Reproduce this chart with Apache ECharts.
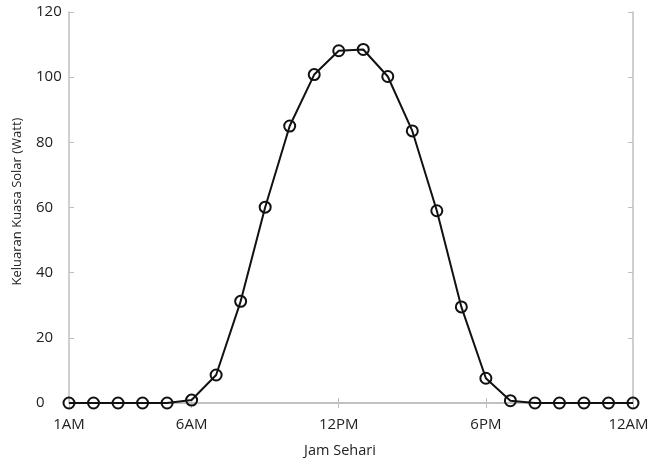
<!DOCTYPE html>
<html>
<head>
<meta charset="utf-8">
<script src="https://cdn.jsdelivr.net/npm/echarts@6/dist/echarts.min.js"></script>
<style>
html,body{margin:0;padding:0;background:#fff;}
#chart{width:650px;height:464px;}
</style>
</head>
<body>
<div id="chart"></div>
<script>
// jam dalam sehari
let hours = ['1AM','2AM','3AM','4AM','5AM','6AM','7AM','8AM','9AM','10AM','11AM','12PM',
    '1PM','2PM','3PM','4PM','5PM','6PM','7PM','8PM','9PM','10PM','11PM','12AM'];
// keluaran kuasa solar (Watt)
let power = [0,0,0,0,0,0.9,8.6,31.2,60.1,85,100.8,108.1,
    108.5,100.2,83.5,59,29.5,7.6,0.7,0,0,0,0,0];
let labelIdx = [0,5,11,17,23];

let axisGray = '#bfbfbf';
let fontName = '"Open Sans", "Liberation Sans", sans-serif';
let showIdx = (i) => labelIdx.indexOf(i) >= 0;

let myChart = echarts.init(document.getElementById('chart'));
let option = {
    animation: false,
    grid: {
        left: 69,
        right: 17,
        top: 12,
        bottom: 61,
        outerBoundsMode: 'none'
    },
    xAxis: [{
        type: 'category',
        data: hours,
        boundaryGap: false,
        name: 'Jam Sehari',
        nameLocation: 'middle',
        nameGap: 40,
        nameTextStyle: { color: '#222', fontSize: 14.5, fontFamily: fontName, padding: [0, 22, 0, 0] },
        axisLine: { lineStyle: { color: axisGray, width: 1.5 } },
        axisTick: {
            inside: true,
            length: 5,
            interval: showIdx,
            lineStyle: { color: axisGray }
        },
        axisLabel: {
            interval: showIdx,
            color: '#222',
            fontSize: 15,
            margin: 14,
            fontFamily: fontName,
            formatter: function (val, idx) {
                if (idx === hours.length - 1) {
                    return '{last|' + val + '}';
                }
                return val;
            },
            rich: {
                last: { color: '#222', fontSize: 15, fontFamily: fontName, padding: [0, 9, 0, 0] }
            }
        },
        splitLine: { show: false }
    }, {
        type: 'category',
        data: hours,
        boundaryGap: false,
        position: 'top',
        axisLine: { lineStyle: { color: axisGray, width: 1.5 } },
        axisTick: {
            inside: true,
            length: 5,
            interval: showIdx,
            lineStyle: { color: axisGray }
        },
        axisLabel: { show: false },
        splitLine: { show: false }
    }],
    yAxis: [{
        type: 'value',
        min: 0,
        max: 120,
        interval: 20,
        name: 'Keluaran Kuasa Solar (Watt)',
        nameLocation: 'middle',
        nameGap: 45,
        nameTextStyle: { color: '#222', fontSize: 13, fontFamily: fontName, padding: [0, 0, 0, 12] },
        axisLine: { show: true, lineStyle: { color: axisGray, width: 1.5 } },
        axisTick: { show: true, inside: true, length: 5, lineStyle: { color: axisGray } },
        axisLabel: { color: '#222', fontSize: 15, margin: 33, align: 'left', fontFamily: fontName },
        splitLine: { show: false }
    }, {
        type: 'value',
        min: 0,
        max: 120,
        interval: 20,
        position: 'right',
        axisLine: { show: true, lineStyle: { color: axisGray, width: 1.5 } },
        axisTick: { show: true, inside: true, length: 5, lineStyle: { color: axisGray } },
        axisLabel: { show: false },
        splitLine: { show: false }
    }],
    series: [{
        type: 'line',
        data: power,
        xAxisIndex: 0,
        yAxisIndex: 0,
        symbol: 'circle',
        symbolSize: 11,
        showAllSymbol: true,
        lineStyle: { color: '#111', width: 2 },
        itemStyle: {
            color: 'rgba(0,0,0,0)',
            borderColor: '#111',
            borderWidth: 2
        }
    }]
};
myChart.setOption(option);
</script>
</body>
</html>
